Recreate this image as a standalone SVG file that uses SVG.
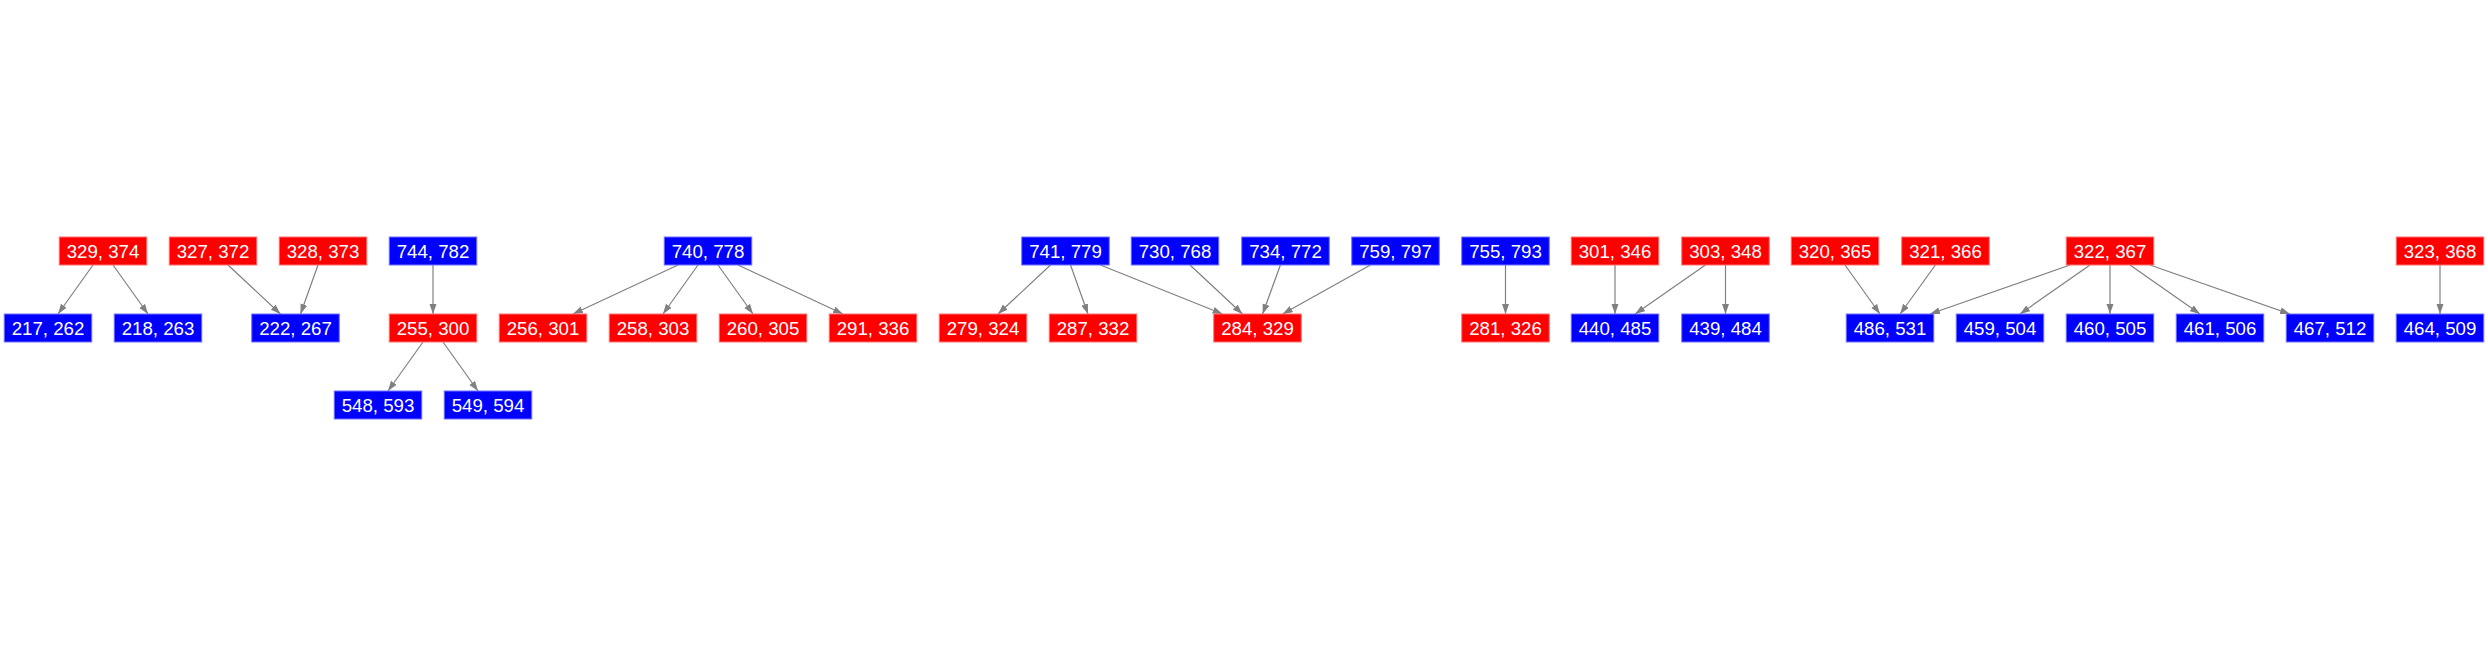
<svg xmlns="http://www.w3.org/2000/svg" width="2488" height="656" viewBox="0 0 2488 656">
<style>
.r rect{fill:#ff0000;stroke:#ff7070;stroke-width:1}
.b rect{fill:#0000ff;stroke:#7070ff;stroke-width:1}
text{font-family:"Liberation Sans",Arial,sans-serif;font-size:18.67px;fill:#ffffff;text-anchor:middle}
#edges line{stroke:#808080;stroke-width:1.2;marker-end:url(#ah)}
</style>
<defs>
<marker id="ah" markerUnits="userSpaceOnUse" markerWidth="11" markerHeight="8" refX="10" refY="3.5" orient="auto">
<path d="M0,0 L10,3.5 L0,7 z" fill="#808080"/>
</marker>
</defs>
<rect width="2488" height="656" fill="#ffffff"/>
<g id="edges">
<line x1="93" y1="265" x2="58" y2="314"/>
<line x1="113" y1="265" x2="148" y2="314"/>
<line x1="228" y1="265" x2="280.5" y2="314"/>
<line x1="318" y1="265" x2="300.5" y2="314"/>
<line x1="433" y1="265" x2="433" y2="314"/>
<line x1="423" y1="342" x2="388" y2="391"/>
<line x1="443" y1="342" x2="478" y2="391"/>
<line x1="678" y1="265" x2="573" y2="314"/>
<line x1="698" y1="265" x2="663" y2="314"/>
<line x1="718" y1="265" x2="753" y2="314"/>
<line x1="738" y1="265" x2="843" y2="314"/>
<line x1="1050.5" y1="265" x2="998" y2="314"/>
<line x1="1070.5" y1="265" x2="1088" y2="314"/>
<line x1="1100.4" y1="265" x2="1222.6" y2="314"/>
<line x1="1190" y1="265" x2="1242.5" y2="314"/>
<line x1="1280.4" y1="265" x2="1262.6" y2="314"/>
<line x1="1370.4" y1="265" x2="1282.6" y2="314"/>
<line x1="1505.5" y1="265" x2="1505.5" y2="314"/>
<line x1="1615" y1="265" x2="1615" y2="314"/>
<line x1="1705.4" y1="265" x2="1635.1" y2="314"/>
<line x1="1725.5" y1="265" x2="1725.5" y2="314"/>
<line x1="1845" y1="265" x2="1880" y2="314"/>
<line x1="1935.4" y1="265" x2="1900.1" y2="314"/>
<line x1="2070" y1="265" x2="1930" y2="314"/>
<line x1="2090" y1="265" x2="2020" y2="314"/>
<line x1="2110" y1="265" x2="2110" y2="314"/>
<line x1="2130" y1="265" x2="2200" y2="314"/>
<line x1="2150" y1="265" x2="2290" y2="314"/>
<line x1="2440" y1="265" x2="2440" y2="314"/>
</g>
<g id="n329_374" class="r"><rect x="59.25" y="237" width="87.5" height="28"/><text x="103" y="257.7">329, 374</text></g>
<g id="n327_372" class="r"><rect x="169.25" y="237" width="87.5" height="28"/><text x="213" y="257.7">327, 372</text></g>
<g id="n328_373" class="r"><rect x="279.25" y="237" width="87.5" height="28"/><text x="323" y="257.7">328, 373</text></g>
<g id="n744_782" class="b"><rect x="389.25" y="237" width="87.5" height="28"/><text x="433" y="257.7">744, 782</text></g>
<g id="n740_778" class="b"><rect x="664.25" y="237" width="87.5" height="28"/><text x="708" y="257.7">740, 778</text></g>
<g id="n741_779" class="b"><rect x="1021.75" y="237" width="87.5" height="28"/><text x="1065.5" y="257.7">741, 779</text></g>
<g id="n730_768" class="b"><rect x="1131.25" y="237" width="87.5" height="28"/><text x="1175" y="257.7">730, 768</text></g>
<g id="n734_772" class="b"><rect x="1241.75" y="237" width="87.5" height="28"/><text x="1285.5" y="257.7">734, 772</text></g>
<g id="n759_797" class="b"><rect x="1351.75" y="237" width="87.5" height="28"/><text x="1395.5" y="257.7">759, 797</text></g>
<g id="n755_793" class="b"><rect x="1461.75" y="237" width="87.5" height="28"/><text x="1505.5" y="257.7">755, 793</text></g>
<g id="n301_346" class="r"><rect x="1571.25" y="237" width="87.5" height="28"/><text x="1615" y="257.7">301, 346</text></g>
<g id="n303_348" class="r"><rect x="1681.75" y="237" width="87.5" height="28"/><text x="1725.5" y="257.7">303, 348</text></g>
<g id="n320_365" class="r"><rect x="1791.25" y="237" width="87.5" height="28"/><text x="1835" y="257.7">320, 365</text></g>
<g id="n321_366" class="r"><rect x="1901.75" y="237" width="87.5" height="28"/><text x="1945.5" y="257.7">321, 366</text></g>
<g id="n322_367" class="r"><rect x="2066.25" y="237" width="87.5" height="28"/><text x="2110" y="257.7">322, 367</text></g>
<g id="n323_368" class="r"><rect x="2396.25" y="237" width="87.5" height="28"/><text x="2440" y="257.7">323, 368</text></g>
<g id="n217_262" class="b"><rect x="4.25" y="314" width="87.5" height="28"/><text x="48" y="334.7">217, 262</text></g>
<g id="n218_263" class="b"><rect x="114.25" y="314" width="87.5" height="28"/><text x="158" y="334.7">218, 263</text></g>
<g id="n222_267" class="b"><rect x="251.75" y="314" width="87.5" height="28"/><text x="295.5" y="334.7">222, 267</text></g>
<g id="n255_300" class="r"><rect x="389.25" y="314" width="87.5" height="28"/><text x="433" y="334.7">255, 300</text></g>
<g id="n256_301" class="r"><rect x="499.25" y="314" width="87.5" height="28"/><text x="543" y="334.7">256, 301</text></g>
<g id="n258_303" class="r"><rect x="609.25" y="314" width="87.5" height="28"/><text x="653" y="334.7">258, 303</text></g>
<g id="n260_305" class="r"><rect x="719.25" y="314" width="87.5" height="28"/><text x="763" y="334.7">260, 305</text></g>
<g id="n291_336" class="r"><rect x="829.25" y="314" width="87.5" height="28"/><text x="873" y="334.7">291, 336</text></g>
<g id="n279_324" class="r"><rect x="939.25" y="314" width="87.5" height="28"/><text x="983" y="334.7">279, 324</text></g>
<g id="n287_332" class="r"><rect x="1049.25" y="314" width="87.5" height="28"/><text x="1093" y="334.7">287, 332</text></g>
<g id="n284_329" class="r"><rect x="1213.75" y="314" width="87.5" height="28"/><text x="1257.5" y="334.7">284, 329</text></g>
<g id="n281_326" class="r"><rect x="1461.75" y="314" width="87.5" height="28"/><text x="1505.5" y="334.7">281, 326</text></g>
<g id="n440_485" class="b"><rect x="1571.25" y="314" width="87.5" height="28"/><text x="1615" y="334.7">440, 485</text></g>
<g id="n439_484" class="b"><rect x="1681.75" y="314" width="87.5" height="28"/><text x="1725.5" y="334.7">439, 484</text></g>
<g id="n486_531" class="b"><rect x="1846.25" y="314" width="87.5" height="28"/><text x="1890" y="334.7">486, 531</text></g>
<g id="n459_504" class="b"><rect x="1956.25" y="314" width="87.5" height="28"/><text x="2000" y="334.7">459, 504</text></g>
<g id="n460_505" class="b"><rect x="2066.25" y="314" width="87.5" height="28"/><text x="2110" y="334.7">460, 505</text></g>
<g id="n461_506" class="b"><rect x="2176.25" y="314" width="87.5" height="28"/><text x="2220" y="334.7">461, 506</text></g>
<g id="n467_512" class="b"><rect x="2286.25" y="314" width="87.5" height="28"/><text x="2330" y="334.7">467, 512</text></g>
<g id="n464_509" class="b"><rect x="2396.25" y="314" width="87.5" height="28"/><text x="2440" y="334.7">464, 509</text></g>
<g id="n548_593" class="b"><rect x="334.25" y="391" width="87.5" height="28"/><text x="378" y="411.7">548, 593</text></g>
<g id="n549_594" class="b"><rect x="444.25" y="391" width="87.5" height="28"/><text x="488" y="411.7">549, 594</text></g>
</svg>
